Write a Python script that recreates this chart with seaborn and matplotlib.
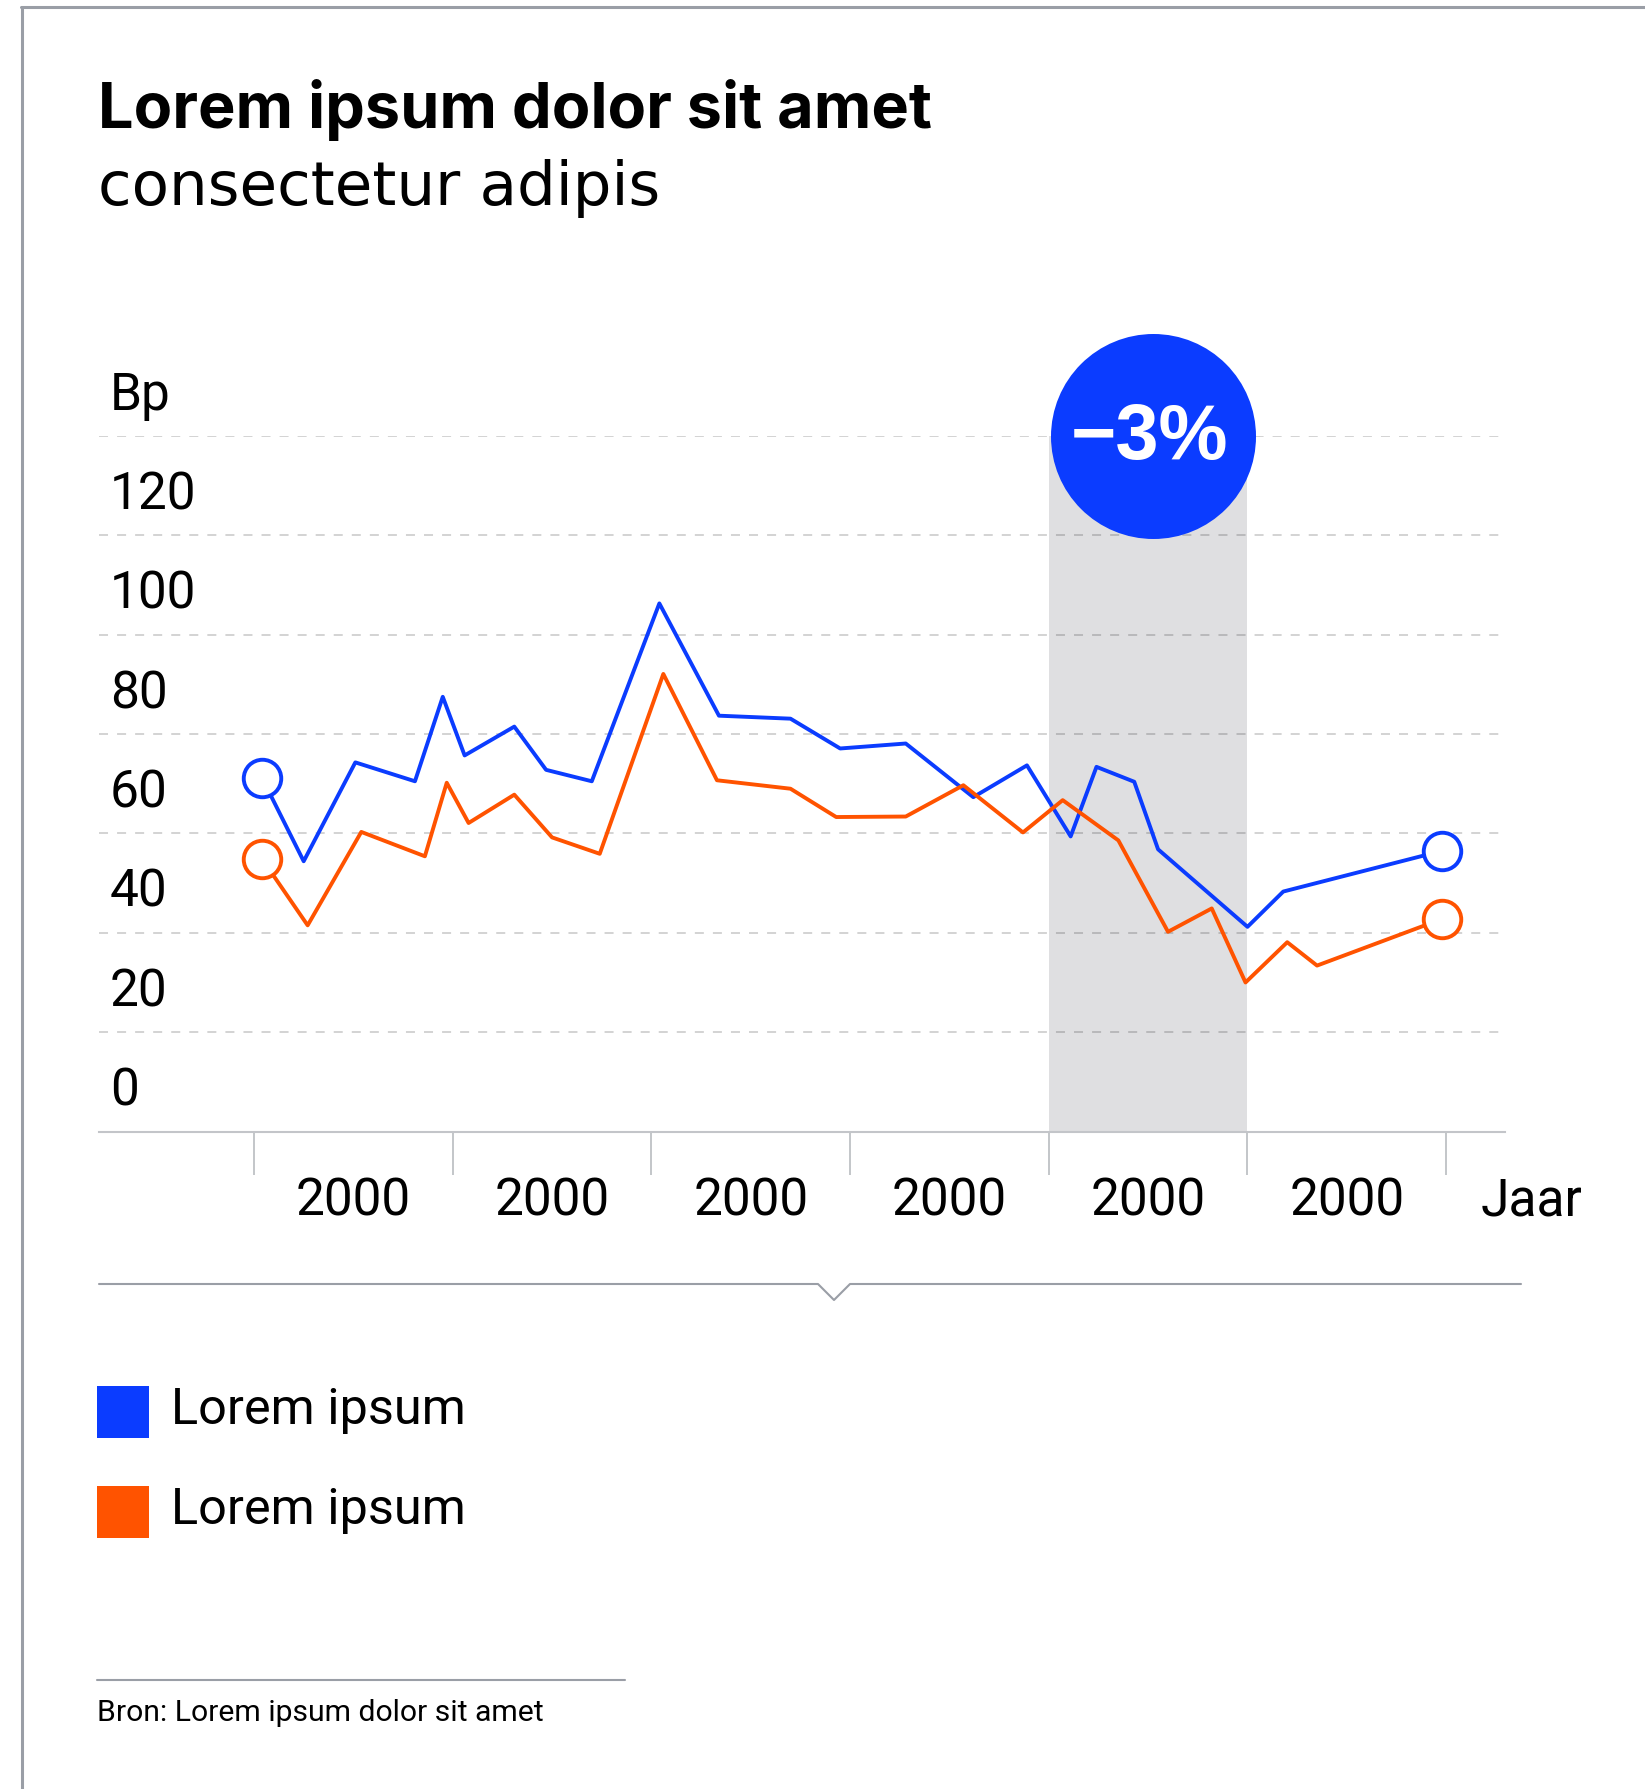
import matplotlib
matplotlib.use("Agg")
import matplotlib.pyplot as plt
import seaborn as sns
import pandas as pd
from matplotlib.lines import Line2D
from matplotlib.patches import Rectangle

# ---------------- data ----------------
title = "Lorem ipsum dolor sit amet"
subtitle = "consectetur adipis"
source = "Bron: Lorem ipsum dolor sit amet"
legend_labels = ["Lorem ipsum", "Lorem ipsum"]
series_colors = ["#0b3cff", "#ff5300"]

blue_x = [0.04, 0.25, 0.51, 0.81, 0.95, 1.06, 1.31, 1.47, 1.70, 2.04, 2.34, 2.70,
          2.95, 3.28, 3.62, 3.89, 4.11, 4.24, 4.43, 4.55, 5.00, 5.18, 5.98]
blue_y = [71.2, 54.4, 74.3, 70.5, 87.5, 75.7, 81.5, 72.8, 70.5, 106.3, 83.7, 83.1,
          77.1, 78.1, 67.3, 73.7, 59.4, 73.4, 70.4, 56.8, 41.2, 48.3, 56.5]
orange_x = [0.04, 0.27, 0.54, 0.86, 0.97, 1.08, 1.31, 1.50, 1.74, 2.06, 2.33, 2.70,
            2.93, 3.28, 3.57, 3.87, 4.07, 4.35, 4.60, 4.82, 4.99, 5.20, 5.35, 5.98]
orange_y = [54.9, 41.5, 60.3, 55.4, 70.2, 62.1, 67.8, 59.2, 55.9, 92.1, 70.7, 69.0,
            63.3, 63.4, 69.7, 60.2, 66.7, 58.6, 40.2, 44.9, 30.0, 38.1, 33.4, 42.8]

y_grid = [20, 40, 60, 80, 100, 120, 140]
y_label_pos = [0, 20, 40, 60, 80, 100, 120, 140]
y_labels = ["0", "20", "40", "60", "80", "100", "120", "Bp"]
x_ticks = [0, 1, 2, 3, 4, 5, 6]
x_label_pos = [0.5, 1.5, 2.5, 3.5, 4.5, 5.5]
x_labels = ["2000", "2000", "2000", "2000", "2000", "2000"]
x_unit = "Jaar"
x_unit_pos = 6.43
highlight_start, highlight_end = 4, 5
badge_text = "\u22123%"
badge_x = 4.525

# ---------------- style ----------------
sns.set_theme(style="white")
plt.rcParams["font.family"] = ["Roboto", "DejaVu Sans"]
plt.rcParams["lines.scale_dashes"] = False

W, H = 1645, 1789
fig = plt.figure(figsize=(W / 100, H / 100), dpi=100)
fig.patch.set_facecolor("white")


def fx(px):
    return px / W


def fy(py):
    return 1 - py / H


# axes: left px 99, right px 1505, top px 436 (=140), bottom px 1131.5 (=0)
ax_l, ax_r, ax_t, ax_b = 99, 1505, 436, 1131.5
ax = fig.add_axes([fx(ax_l), fy(ax_b), (ax_r - ax_l) / W, (ax_b - ax_t) / H])
ax.set_facecolor("none")
px_per_unit = 198.7
ax.set_xlim((ax_l - 254) / px_per_unit, (ax_r - 254) / px_per_unit)
ax.set_ylim(0, 140)

df = pd.DataFrame({
    "x": blue_x + orange_x,
    "y": blue_y + orange_y,
    "series": ["a"] * len(blue_x) + ["b"] * len(orange_x),
})
palette = {"a": series_colors[0], "b": series_colors[1]}

# highlight band
ax.axvspan(highlight_start, highlight_end, color="#dfdfe1", lw=0, zorder=1)

# grid lines
for g in y_grid:
    ax.axhline(g, color="black", alpha=0.2, lw=1.2, dashes=(6.5, 6.5), zorder=1.5)

# lines
sns.lineplot(data=df, x="x", y="y", hue="series", palette=palette, sort=False,
             estimator=None, legend=False, lw=2.8, ax=ax, zorder=3)

# endpoint circles
for key in ["a", "b"]:
    sub = df[df.series == key]
    ends = sub.iloc[[0, -1]]
    sns.scatterplot(x=ends["x"], y=ends["y"], color="white", edgecolor=palette[key],
                    linewidth=2.8, s=27 ** 2, ax=ax, zorder=4, clip_on=False,
                    legend=False)

# badge
sns.scatterplot(x=[badge_x], y=[140], color="#0b3cff", s=147.6 ** 2, linewidth=0,
                ax=ax, zorder=6, clip_on=False, legend=False)
ax.text(badge_x - 0.02, 139.4, badge_text, color="white", fontsize=56,
        fontweight="bold", family=["Liberation Sans", "DejaVu Sans"],
        ha="center", va="center", zorder=7, clip_on=False)

# spines / ticks
for s in ["top", "right", "left"]:
    ax.spines[s].set_visible(False)
ax.spines["bottom"].set_color("#c3c5c9")
ax.spines["bottom"].set_linewidth(1.5)
ax.spines["bottom"].set_zorder(2)
ax.set_xticks(x_ticks)
ax.set_xticklabels([])
ax.tick_params(axis="x", direction="out", length=31, width=1.1, color="#b3b6bb",
               bottom=True)
ax.set_yticks([])
ax.set_xlabel("")
ax.set_ylabel("")

# y labels (inside plot, above gridlines)
lab_x = (110 - 254) / px_per_unit
for v, lab in zip(y_label_pos, y_labels):
    ax.text(lab_x, v + 5.2, lab, fontsize=37, color="black", ha="left",
            va="baseline", zorder=5)

# x labels
x_lab_y = (ax_b - 1215) / 4.965
for p, lab in zip(x_label_pos, x_labels):
    ax.text(p, x_lab_y, lab, fontsize=37, color="black", ha="center",
            va="baseline", clip_on=False)
ax.text(x_unit_pos, x_lab_y, x_unit, fontsize=37, color="black", ha="center",
        va="baseline", clip_on=False)

# ---------------- figure furniture ----------------
renderer = fig.canvas.get_renderer()


def fit(t, target):
    w = t.get_window_extent(renderer).width
    t.set_fontsize(t.get_fontsize() * target / w)


t1 = fig.text(fx(98), fy(128), title, fontsize=46, fontweight="bold",
              family=["Inter", "DejaVu Sans"], color="black", ha="left",
              va="baseline")
fit(t1, 834)
t2 = fig.text(fx(98), fy(205), subtitle, fontsize=44, family=["DejaVu Sans"],
              color="black", ha="left", va="baseline")
fit(t2, 562)

# border
bc = "#9a9ea6"
fig.add_artist(Line2D([fx(22), fx(22)], [fy(6.7), fy(H)], color=bc, lw=2.2))
fig.add_artist(Line2D([fx(21), fx(W)], [fy(6.7), fy(6.7)], color=bc, lw=2.2))

# separator with caret
sx = [99, 818, 834, 850, 1521]
sy = [1284, 1284, 1300, 1284, 1284]
fig.add_artist(Line2D([fx(v) for v in sx], [fy(v) for v in sy], color=bc, lw=1.5))

# legend
for i, (lab, c) in enumerate(zip(legend_labels, series_colors)):
    top = 1386 + i * 100
    fig.add_artist(Rectangle((fx(97), fy(top + 51.5)), 51.5 / W, 51.5 / H,
                             facecolor=c, edgecolor="none"))
    tl = fig.text(fx(171), fy(1424.5 + i * 99.5), lab, fontsize=37, color="black",
                  ha="left", va="baseline")
    fit(tl, 294)

# source
fig.add_artist(Line2D([fx(97), fx(625)], [fy(1680), fy(1680)], color=bc, lw=1.5))
ts = fig.text(fx(97), fy(1721.4), source, fontsize=20, color="black", ha="left",
              va="baseline")
fit(ts, 446)

fig.savefig("out.png", dpi=100, facecolor="white")
